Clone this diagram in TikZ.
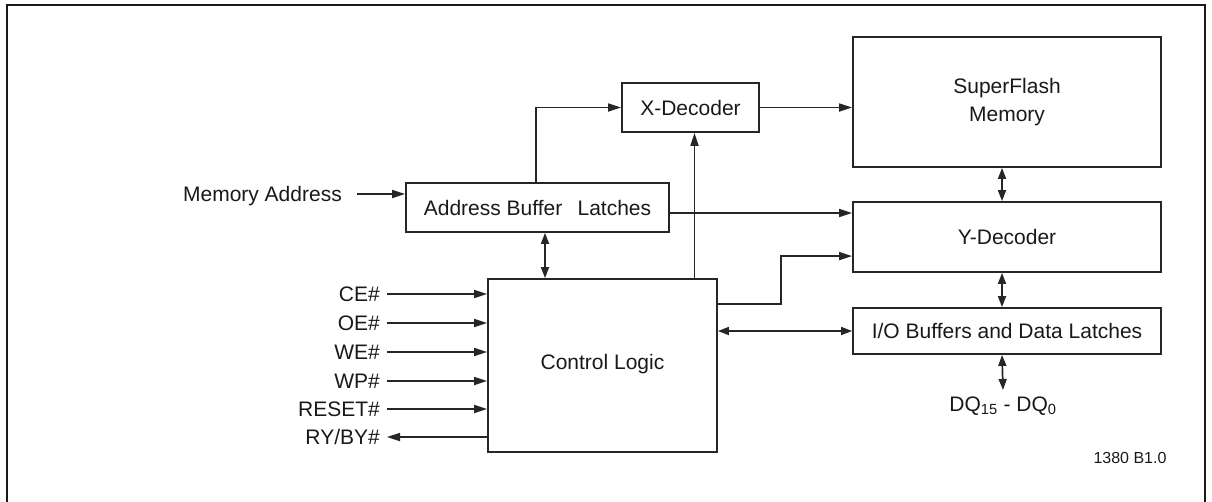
\documentclass[tikz,border=0pt]{standalone}
\usepackage{fontspec}
\setmainfont{Liberation Sans}
\usetikzlibrary{arrows.meta,positioning}

\tikzset{
  blk/.style={draw=black!85,line width=1.8pt,inner sep=0pt,text=black!90},
  sig/.style={anchor=east,inner xsep=7pt,inner ysep=0pt,text height=15pt,text depth=0pt,text=black!90},
  arr/.style={draw=black!85,line width=1.7pt,-{Triangle[length=13pt,width=8pt]}},
  darr/.style={draw=black!85,line width=1.7pt,{Triangle[length=11pt,width=8pt]}-{Triangle[length=11pt,width=8pt]}},
}

\begin{document}
\begin{tikzpicture}[x=1pt,y=-1pt]
  \fontsize{21}{28}\selectfont
  \useasboundingbox (0,0) rectangle (1212,501);
  \draw[black!90,line width=2.5pt] (7,5) rectangle (1205,520);

  \node[blk,minimum width=308pt,minimum height=130pt,align=center] (sfm) at (1007,102) {SuperFlash\\Memory};
  \node[blk,minimum width=137pt,minimum height=49pt] (xdec) at (690.5,107.5) {X-Decoder};
  \node[blk,minimum width=263pt,minimum height=49pt] (abl) at (537.5,207.5) {Address Buffer\hspace{0.45em} Latches};
  \node[blk,minimum width=308pt,minimum height=70pt] (ydec) at (1007,237) {Y-Decoder};
  \node[blk,minimum width=308pt,minimum height=46pt] (iob) at (1007,331) {I/O Buffers and Data Latches};
  \node[blk,minimum width=229pt,minimum height=173pt] (ctl) at (602.5,365.5) {\raisebox{7pt}{Control Logic}};

  \node[sig,inner xsep=15pt] (madr) at (357,194) {Memory Address};
  \node[anchor=north,text=black!90] (dq) at (1003,390) {DQ\textsubscript{15} - DQ\textsubscript{0}};
  \node[text=black!90,font=\fontsize{16}{18}\selectfont] (rev) at (1130,458) {1380 B1.0};

  \foreach \nm/\yy/\txt in {ce/294/CE\#,oe/323/OE\#,we/352/WE\#,wp/381/WP\#,rst/409/RESET\#}{
    \node[sig] (\nm) at (387,\yy) {\txt};
    \draw[arr] (\nm.east) -- (\nm.east -| ctl.west);
  }
  \node[sig] (ryby) at (387,437) {RY/BY\#};
  \draw[arr] (ryby.east -| ctl.west) -- (ryby.east);

  \draw[arr] (madr.east) -- (madr.east -| abl.west);
  \draw[arr] ([xshift=-1.5pt]abl.north) |- (xdec.west);
  \draw[arr] ([yshift=-5.5pt]abl.east) -- ([yshift=-5.5pt]abl.east -| ydec.west);
  \draw[darr] ([xshift=7.5pt]abl.south) -- ([xshift=7.5pt]abl.south |- ctl.north);
  \draw[arr] ([xshift=92pt]ctl.north) -- ([xshift=92pt]ctl.north |- xdec.south);
  \draw[arr] (xdec.east) -- (xdec.east -| sfm.west);
  \draw[arr] ([yshift=-26pt]ctl.north east) -- ++(63pt,0) |- ([yshift=-55pt]ydec.north west);
  \draw[darr] (ctl.east |- iob.west) -- (iob.west);
  \draw[darr] ([xshift=-5pt]sfm.south) -- ([xshift=-5pt]sfm.south |- ydec.north);
  \draw[darr] ([xshift=-5pt]ydec.south) -- ([xshift=-5pt]ydec.south |- iob.north);
  \draw[darr] ([xshift=-5pt]iob.south) -- (dq.north);
\end{tikzpicture}
\end{document}
